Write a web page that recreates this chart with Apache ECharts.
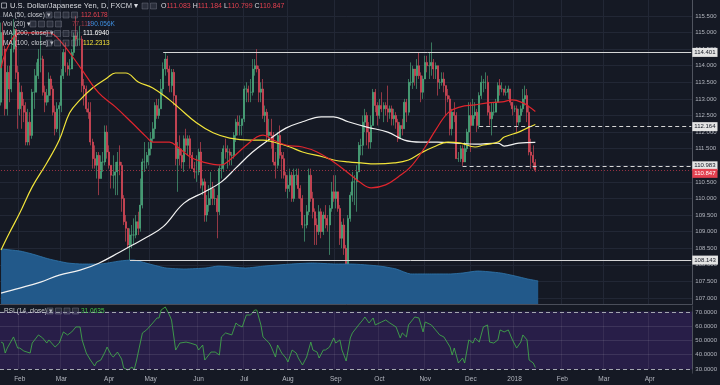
<!DOCTYPE html>
<html><head><meta charset="utf-8">
<script src="https://cdn.jsdelivr.net/npm/echarts@6/dist/echarts.min.js"></script>
<style>html,body{margin:0;padding:0;background:#151924;}#c{width:720px;height:385px;}</style>
</head><body><div id="c"></div>
<script>
// ---------- DATA ----------
const startDate = [2017, 0, 19];
const dayCount = 333;
// daily candles [open, close, low, high], from 2017-01-19
const ohlc = [
[112.9,115.0,112.8,115.3],[115.0,114.6,114.3,115.3],[114.5,112.7,112.5,114.6],[112.7,113.8,112.5,114.0],[113.8,113.3,112.9,114.0],
[113.3,114.5,113.2,115.0],[114.5,115.1,114.4,115.4],[115.1,113.8,113.6,115.1],[113.8,112.7,112.1,114.0],
[112.7,113.2,112.5,113.5],[113.2,112.8,112.1,113.4],[112.8,112.6,112.3,113.0],[112.6,111.7,111.6,112.9],[111.7,112.3,111.6,112.7],
[112.3,111.9,111.6,112.6],[111.9,113.2,111.8,113.3],[113.2,113.2,112.7,113.9],[113.2,113.7,113.2,114.1],[113.7,114.2,113.6,114.5],
[114.2,114.2,113.8,114.9],[114.2,113.2,113.1,114.3],[113.2,112.9,112.6,113.4],[112.9,113.1,112.8,113.3],[113.1,113.6,112.9,113.8],
[113.6,113.3,113.1,113.7],[113.3,112.6,112.5,113.4],[112.6,112.1,111.9,112.8],[112.1,112.7,112.0,112.9],[112.7,112.8,111.8,112.9],
[112.8,113.7,112.6,113.9],[113.7,114.4,113.6,114.5],[114.4,114.0,113.8,114.7],[114.0,113.9,113.7,114.1],[113.9,113.9,113.7,114.2],
[113.9,114.4,113.9,114.5],[114.4,114.9,114.3,115.0],[114.9,114.8,114.6,115.5],[114.8,114.8,114.6,115.0],[114.8,114.8,114.6,115.2],
[114.8,113.4,113.2,114.9],[113.4,113.3,112.8,113.6],[113.3,112.7,112.6,113.4],[112.7,112.6,112.4,112.9],[112.6,111.7,111.6,112.9],
[111.7,111.2,110.9,111.8],[111.2,111.0,110.9,111.6],[111.0,111.3,110.6,111.4],[111.3,110.6,110.1,111.4],[110.6,111.1,110.6,111.3],
[111.1,111.1,110.8,111.4],[111.1,112.0,111.0,112.2],[112.0,111.4,111.2,112.2],
[111.4,111.0,110.9,111.6],[111.0,110.7,110.3,111.0],[110.7,110.7,110.3,111.3],[110.7,110.8,110.1,111.1],[110.8,111.1,110.1,111.4],
[111.1,111.0,110.7,111.6],[111.0,110.0,109.6,111.1],[110.0,109.3,109.2,110.1],[109.3,109.1,108.7,109.5],[109.1,108.6,108.5,109.1],
[108.6,108.9,108.14,109.1],[108.9,108.9,108.5,109.2],[108.9,108.9,108.6,109.4],[108.9,109.3,108.8,109.5],[109.3,109.1,108.9,109.6],
[109.1,109.8,109.0,110.6],[109.8,111.1,109.7,111.2],[111.1,111.1,110.8,111.7],[111.1,111.3,110.9,111.4],[111.3,111.5,111.0,111.7],
[111.5,111.8,111.3,112.0],[111.8,112.1,111.7,112.3],[112.1,112.8,111.8,112.9],[112.8,112.5,112.4,113.0],[112.5,112.7,112.4,113.0],
[112.7,113.3,112.7,113.6],[113.3,113.9,113.1,114.1],[113.9,114.2,113.7,114.4],[114.2,113.9,113.8,114.3],[113.9,113.4,113.2,114.0],
[113.4,113.8,113.2,113.9],[113.8,113.1,112.8,113.9],[113.1,111.2,111.0,113.1],[111.2,111.5,110.2,111.7],[111.5,111.3,111.0,111.9],
[111.3,111.1,110.9,111.5],[111.1,111.8,110.8,111.9],[111.8,111.6,111.4,112.1],[111.6,111.8,111.3,111.9],[111.8,111.3,110.9,111.9],
[111.3,110.9,110.9,111.4],[110.9,110.8,110.6,111.1],[110.8,110.8,110.5,111.3],
[110.8,111.4,110.7,111.5],[111.4,110.4,110.3,111.7],[110.4,110.5,110.1,110.6],[110.5,109.5,109.3,110.6],[109.5,109.8,109.3,110.1],
[109.8,110.0,109.6,110.4],[110.0,110.3,109.8,110.8],[110.3,110.0,109.8,110.5],[110.0,110.0,109.8,110.3],[110.0,109.6,108.8,110.1],
[109.6,110.9,109.5,111.0],[110.9,110.9,110.6,111.4],[110.9,111.5,110.8,111.6],[111.5,111.4,111.2,111.8],[111.4,111.4,110.9,111.6],
[111.4,111.3,111.0,111.5],[111.3,111.3,111.0,111.4],[111.3,111.9,111.2,112.0],[111.9,112.3,111.7,112.4],[112.3,112.2,111.9,112.5],
[112.2,112.2,111.9,112.5],[112.2,112.4,111.9,112.4],
[112.4,113.3,112.3,113.4],[113.3,113.3,112.9,113.5],[113.3,113.2,112.9,113.4],[113.2,113.2,112.9,113.6],[113.2,113.9,113.1,114.2],
[113.9,114.0,113.7,114.2],[114.0,113.9,113.8,114.5],[113.9,113.2,112.9,114.0],[113.2,113.3,112.9,113.5],[113.3,112.5,112.4,113.6],
[112.5,112.6,112.3,112.8],[112.6,111.9,111.7,112.7],[111.9,112.0,111.7,112.4],[112.0,111.9,111.5,112.4],[111.9,111.1,111.0,112.0],
[111.1,111.0,110.6,111.4],[111.0,111.9,110.9,112.0],[111.9,111.3,111.2,112.2],[111.3,111.2,110.6,111.4],[111.2,110.7,110.6,111.4],
[110.7,110.3,110.2,110.8],
[110.3,110.4,110.0,110.7],[110.4,110.7,110.2,110.9],[110.7,110.0,109.9,110.8],[110.0,110.7,109.9,110.9],[110.7,110.7,110.4,110.9],
[110.7,110.3,110.0,110.9],[110.3,110.0,109.6,110.4],[110.0,109.2,109.1,110.1],[109.2,109.2,108.7,109.5],[109.2,109.6,109.1,109.8],
[109.6,110.7,109.5,110.9],[110.7,110.0,109.9,110.9],[110.0,109.6,109.4,110.2],[109.6,109.2,108.6,109.7],[109.2,109.0,108.6,109.4],
[109.0,109.6,108.9,109.8],[109.6,109.0,108.8,109.7],[109.0,109.5,108.9,109.6],[109.5,109.4,109.1,109.8],[109.4,109.2,109.0,109.5],
[109.2,109.7,108.3,109.8],[109.7,110.2,109.6,110.5],[110.2,110.0,109.9,110.7],
[110.0,110.2,109.7,110.7],[110.2,109.7,109.6,109.9],[109.7,108.8,108.6,109.8],[108.8,109.2,108.5,109.3],[109.2,108.5,108.3,109.4],
[108.5,107.9,107.85,108.6],[107.9,109.4,107.9,109.5],[109.4,110.1,109.3,110.2],[110.1,110.5,109.9,110.8],[110.5,110.5,109.8,110.7],
[110.5,110.8,109.6,111.0],[110.8,111.6,110.8,111.7],[111.6,111.6,111.3,111.8],[111.6,112.3,111.3,112.5],[112.3,112.5,112.0,112.7],
[112.5,112.0,111.6,112.6],[112.0,111.7,111.5,112.3],[111.7,112.2,111.5,112.5],[112.2,113.2,112.2,113.3],[113.2,112.8,112.6,113.3],
[112.8,112.5,112.2,112.9],
[112.5,112.8,112.4,113.0],[112.8,112.7,112.6,113.2],[112.7,112.8,112.3,112.9],[112.8,112.7,112.5,112.9],[112.7,112.6,112.3,113.4],
[112.6,112.7,112.4,112.8],[112.7,112.4,112.2,112.8],[112.4,112.5,112.2,112.7],[112.5,112.3,112.1,112.6],[112.3,111.8,111.7,112.4],
[111.8,112.2,111.8,112.3],[112.2,112.1,111.9,112.4],[112.1,112.9,112.1,113.0],[112.9,112.6,112.3,113.0],[112.6,113.5,112.5,113.6],
[113.5,113.5,113.4,114.1],[113.5,113.9,113.3,114.0],[113.9,113.7,113.4,113.9],[113.7,114.0,113.3,114.2],[114.0,113.7,113.6,114.4],
[113.7,113.2,112.9,113.8],[113.2,113.6,113.0,113.7],
[113.6,114.1,113.6,114.3],[114.1,114.0,113.8,114.3],[114.0,114.0,113.6,114.4],[114.0,114.1,113.7,114.7],[114.1,113.9,113.6,114.2],
[113.9,114.0,113.6,114.1],[114.0,113.5,113.1,114.0],[113.5,113.5,113.3,113.6],[113.5,113.6,113.4,113.8],[113.6,113.4,113.2,113.8],
[113.4,113.1,112.5,113.4],[113.1,113.0,112.9,113.3],[113.0,112.1,111.9,113.1],[112.1,112.6,111.9,112.7],[112.6,112.5,112.3,112.9],
[112.5,111.2,111.2,112.6],[111.2,111.2,111.1,111.4],[111.2,111.5,111.1,111.6],[111.5,111.1,110.98,111.6],[111.1,111.5,111.1,111.7],
[111.5,112.0,111.4,112.1],[112.0,112.5,111.6,112.9],
[112.5,112.2,111.4,112.9],[112.2,112.5,112.2,113.0],[112.5,112.6,112.4,112.9],[112.6,112.2,112.0,112.7],[112.2,113.1,112.1,113.2],
[113.1,113.5,113.0,113.7],[113.5,113.5,113.2,113.6],[113.5,113.5,113.3,113.8],[113.5,112.6,112.5,113.7],[112.6,112.4,112.2,112.8],
[112.4,112.6,111.9,112.9],[112.6,112.6,112.5,112.9],[112.6,112.9,112.6,113.0],[112.9,113.4,112.9,113.5],[113.4,113.3,113.1,113.6],
[113.3,113.3,113.2,113.5],[113.3,113.2,113.1,113.3],[113.2,113.2,113.1,113.4],[113.2,113.3,113.0,113.4],[113.3,112.9,112.8,113.3],
[112.9,112.7,112.5,112.9],
[112.7,112.7,112.6,112.8],[112.7,112.3,112.0,112.8],[112.3,112.5,112.2,112.7],[112.5,112.7,112.3,112.8],[112.7,113.0,112.6,113.3],
[113.0,113.1,112.8,113.4],[113.1,112.6,112.3,113.3],[112.6,111.4,111.3,112.8],[111.4,111.3,110.9,111.8],[111.3,111.08,110.9,111.6],
[111.083,110.847,110.799,111.184]
];
// moving averages: [dayIndex, value]
const ma50 = [[0,113.93],[2,114.38],[6,114.87],[9,114.99],[23,114.99],[28,114.78],[38,113.96],[47,113.18],[55,112.76],[63,112.28],[70,111.85],[73,111.70],[81,111.70],[85,111.55],[91,111.25],[97,111.10],[106,111.01],[110,111.16],[117,111.55],[123,111.85],[126,111.91],[131,111.76],[137,111.61],[145,111.55],[152,111.40],[160,111.10],[167,110.77],[173,110.47],[178,110.32],[185,110.41],[191,110.65],[197,110.95],[204,111.55],[209,112.06],[215,112.58],[221,112.76],[228,112.82],[234,112.88],[241,112.91],[246,112.97],[251,112.88],[254,112.76],[257,112.62]];
const ma100 = [[0,108.45],[4,108.96],[9,109.56],[15,110.35],[22,111.07],[28,111.76],[33,112.58],[38,112.97],[44,113.33],[51,113.63],[55,113.78],[60,113.78],[66,113.51],[73,113.33],[81,112.97],[85,112.76],[94,112.28],[102,111.98],[110,111.82],[120,111.76],[126,111.76],[131,111.70],[139,111.55],[145,111.40],[155,111.25],[160,111.16],[167,111.10],[173,111.07],[180,111.04],[189,111.07],[196,111.16],[202,111.37],[208,111.55],[215,111.70],[221,111.67],[228,111.55],[232,111.61],[239,111.70],[242,111.85],[249,112.00],[254,112.15],[257,112.23]];
const ma200 = [[0,107.15],[9,107.30],[19,107.48],[28,107.69],[38,107.84],[47,108.05],[57,108.38],[63,108.59],[70,108.83],[78,109.15],[88,109.86],[98,110.20],[106,110.50],[113,110.92],[121,111.40],[130,111.82],[137,112.12],[145,112.31],[154,112.46],[160,112.46],[167,112.31],[176,112.15],[186,112.00],[194,111.76],[202,111.70],[210,111.70],[219,111.67],[228,111.64],[239,111.67],[242,111.58],[249,111.67],[257,111.69]];
// volume moving average (thousands)
const volMA = [[0,454],[9,437],[15,412],[23,371],[32,338],[39,330],[47,330],[57,355],[63,363],[71,330],[79,297],[88,289],[98,297],[104,313],[117,297],[126,313],[139,330],[149,338],[160,330],[167,330],[181,313],[189,289],[196,248],[205,248],[215,248],[221,256],[228,272],[239,256],[246,231],[252,206],[257,190]];
// RSI(14)
const rsi = [[0,48.9],[1,48.2],[2,41.2],[3,44.7],[6,52.5],[8,44.7],[9,44.7],[11,42.6],[14,41.2],[15,48.2],[18,53.9],[20,51.8],[22,48.2],[23,50.4],[26,45.4],[28,48.2],[30,56.0],[32,53.9],[34,56.0],[36,59.5],[38,59.5],[39,50.4],[41,41.2],[43,36.3],[45,32.1],[46,34.9],[48,36.3],[50,41.9],[51,45.4],[53,39.8],[54,38.4],[56,41.9],[58,37.0],[59,30.7],[61,29.3],[63,31.4],[64,29.3],[65,34.9],[68,55.3],[70,57.4],[73,62.3],[75,65.8],[76,65.8],[77,71.4],[79,73.5],[81,67.9],[82,64.4],[84,43.3],[86,48.2],[89,48.9],[91,48.2],[94,46.8],[95,43.3],[97,46.8],[98,36.3],[101,41.9],[103,41.9],[105,39.8],[106,52.5],[108,55.3],[111,53.9],[113,62.3],[114,60.9],[116,59.5],[118,67.9],[120,67.9],[122,71.4],[123,71.4],[125,60.9],[126,52.5],[129,48.2],[130,45.4],[132,38.4],[133,46.8],[135,41.2],[137,37.7],[138,34.9],[140,43.3],[142,41.2],[143,37.7],[145,32.8],[147,38.4],[149,48.9],[150,43.3],[152,41.9],[153,37.7],[155,43.3],[156,43.3],[158,45.4],[160,51.8],[161,48.2],[163,50.4],[164,43.3],[166,35.6],[168,51.8],[169,55.3],[172,60.9],[174,64.4],[175,66.5],[177,62.3],[179,65.8],[180,60.9],[183,63.0],[185,64.4],[187,62.3],[190,59.5],[192,51.8],[193,55.3],[195,52.5],[196,60.9],[199,66.5],[201,65.8],[203,56.0],[204,63.0],[207,60.9],[209,57.4],[211,53.9],[213,52.5],[216,45.4],[217,39.8],[218,44.7],[220,34.2],[222,37.7],[223,34.2],[225,50.4],[227,48.2],[228,51.8],[230,48.9],[232,59.5],[234,60.9],[235,48.9],[237,48.2],[239,50.4],[240,57.4],[242,56.0],[244,57.4],[246,50.4],[248,44.7],[250,48.9],[251,53.9],[253,50.4],[254,36.3],[256,34.2],[257,31.06]];
const priceTicks = [107,107.5,108,108.5,109,109.5,110,110.5,111,111.5,112,112.5,113,113.5,114,114.5,115,115.5];
const rsiLabelTicks = [30,40,50,60,70];
const rsiGridTicks = [40,50,60];
const rsiBands = [70,30];
const levelPrices = [114.401,112.164,110.983,108.143];
const levelFrom = ['2017-05-09','2017-12-07','2017-11-27','2017-04-17'];
const levelDashed = [false,true,true,false];
const lastPrice = 110.847;
const headerOHLC = ['111.083','111.184','110.799','110.847'];
const legendVals = {ma50:'112.6178', vol:'77.11K', volMA:'190.056K', ma200:'111.6940', ma100:'112.2313', rsi:'31.0635'};
const monthNames = ['Jan','Feb','Mar','Apr','May','Jun','Jul','Aug','Sep','Oct','Nov','Dec'];

// ---------- BUILD ----------
const dates = [];
{ const d = new Date(Date.UTC(startDate[0], startDate[1], startDate[2]));
  while (dates.length < dayCount) { const w = d.getUTCDay(); if (w !== 0 && w !== 6) dates.push(d.toISOString().slice(0,10)); d.setUTCDate(d.getUTCDate()+1); } }
const isMonthStart = (i) => i > 0 && dates[i].slice(5,7) !== dates[i-1].slice(5,7);
const monthLabel = (v) => { const m = +v.slice(5,7); return m === 1 ? v.slice(0,4) : monthNames[m-1]; };
const lastDate = dates[dates.length-1];

const FONT = '"Liberation Sans", Arial, sans-serif';
const gridColor = '#222735';
const axisText = '#b2b5be';

const levelLines = levelPrices.map((p,i) => [
  { coord:[levelFrom[i], p], lineStyle:{ color:'#d6d6d6', width:1, type: levelDashed[i] ? [4,3] : 'solid' },
    label:{ show:true, position:'end', distance:1, formatter: p.toFixed(3), backgroundColor:'#e4e4e4', color:'#131722',
            fontSize:6, fontFamily:FONT, padding:[2,2,1,2] } },
  { coord:[lastDate, p] }
]);
levelLines.push([
  { coord:[dates[0], lastPrice], lineStyle:{ color:'#9c3444', width:1, type:[1,2] },
    label:{ show:true, position:'end', distance:1, formatter: lastPrice.toFixed(3), backgroundColor:'#e2404f', color:'#ffffff',
            fontSize:6, fontFamily:FONT, padding:[2,2,1,2], offset:[0,3] } },
  { coord:[lastDate, lastPrice] }
]);

const graphics = [];
function txt(x, y, text, fill, size, extra) {
  graphics.push(Object.assign({ type:'text', x, y, silent:true, z:100,
    style:{ text, fill, font: (size||6.5)+'px '+FONT, verticalAlign:'middle' } }, extra||{}));
}
function icons(x, y, n) {
  for (let k=0;k<n;k++) graphics.push({ type:'rect', silent:true, z:100, shape:{x:x+k*8.5, y:y-3, width:6, height:6},
    style:{ fill:'rgba(110,115,130,0.25)', stroke:'rgba(150,155,170,0.55)', lineWidth:0.6 } });
}
graphics.push({ type:'rect', silent:true, z:100, shape:{x:1.5,y:3,width:5,height:5}, style:{fill:'none', stroke:'#c9ccd4', lineWidth:0.7} });
txt(10, 6, 'U.S. Dollar/Japanese Yen, D, FXCM ▾', '#d9dbe0', 7.6);
icons(142, 6, 2);
graphics.push({ type:'text', x:161, y:6, silent:true, z:100, style:{
  text:'O{r|'+headerOHLC[0]+'} H{r|'+headerOHLC[1]+'} L{r|'+headerOHLC[2]+'} C{r|'+headerOHLC[3]+'}',
  fill:'#d9dbe0', font:'7px '+FONT, verticalAlign:'middle', rich:{ r:{ fill:'#e2404f', font:'7px '+FONT } } } });
txt(3, 15, 'MA (50, close) ▾', '#c8cad0'); icons(46, 15, 4); txt(81, 15, legendVals.ma50, '#e2404f');
txt(3, 24, 'Vol (20) ▾', '#c8cad0'); icons(30, 24, 4); txt(72, 24, legendVals.vol, '#9a3a48'); txt(87, 24, legendVals.volMA, '#3f8fe0');
txt(3, 33.5, 'MA (200, close) ▾', '#c8cad0'); icons(46, 33.5, 4); txt(83, 33.5, legendVals.ma200, '#ffffff');
txt(3, 43, 'MA (100, close) ▾', '#c8cad0'); icons(46, 43, 4); txt(83, 43, legendVals.ma100, '#f5e23a');
txt(4, 311, 'RSI (14, close) ▾', '#c8cad0'); icons(47, 311, 4); txt(81, 311, legendVals.rsi, '#43c24a');

const chart = echarts.init(document.getElementById('c'), null, { renderer:'canvas' });
chart.setOption({
  backgroundColor:'#151924',
  animation:false,
  textStyle:{ fontFamily:FONT },
  grid:[
    { left:0, right:24, top:0, height:304 },
    { left:0, right:24, top:0, height:304 },
    { left:0, right:24, top:306, height:67, show:true, backgroundColor:'#281e48', borderWidth:0 }
  ],
  xAxis:[
    { type:'category', gridIndex:0, data:dates, boundaryGap:true,
      axisLabel:{show:false}, axisTick:{show:false},
      axisLine:{ show:true, lineStyle:{ color:'#4a4e5a' } },
      splitLine:{ show:true, interval:(i)=>isMonthStart(i), lineStyle:{ color:gridColor } } },
    { type:'category', gridIndex:1, data:dates, boundaryGap:true, show:false },
    { type:'category', gridIndex:2, data:dates, boundaryGap:true,
      axisLine:{ show:false }, axisTick:{ show:false },
      axisLabel:{ interval:(i)=>isMonthStart(i), formatter:monthLabel, color:axisText, fontSize:6.5, margin:3 },
      splitLine:{ show:true, interval:(i)=>isMonthStart(i), lineStyle:{ color:'rgba(255,255,255,0.07)' } } }
  ],
  yAxis:[
    { type:'value', gridIndex:0, position:'right', min:106.82, max:115.98,
      axisLine:{ show:true, lineStyle:{ color:'#50545f' } },
      axisTick:{ show:false, customValues:priceTicks },
      axisLabel:{ customValues:priceTicks, formatter:(v)=>v.toFixed(3), color:axisText, fontSize:6, margin:3 },
      splitLine:{ show:true, lineStyle:{ color:gridColor } } },
    { type:'value', gridIndex:1, min:0, max:2508, show:false, splitLine:{show:false} },
    { type:'value', gridIndex:2, position:'right', min:27.19, max:74.21,
      axisLine:{ show:true, lineStyle:{ color:'#50545f' } },
      axisTick:{ show:false, customValues:rsiGridTicks },
      axisLabel:{ customValues:rsiLabelTicks, formatter:(v)=>v.toFixed(4), color:axisText, fontSize:6, margin:3 },
      splitLine:{ show:true, lineStyle:{ color:'rgba(255,255,255,0.10)' } } }
  ],
  series:[
    { type:'line', xAxisIndex:1, yAxisIndex:1, data:volMA, symbol:'none', smooth:0.2,
      lineStyle:{ color:'#3079b0', width:0.8 }, areaStyle:{ color:'#22598a', opacity:1 } },
    { type:'candlestick', xAxisIndex:0, yAxisIndex:0, data:ohlc, barWidth:1.5, clip:false,
      itemStyle:{ color:'#53b987', color0:'#eb4d5c', borderColor:'#53b987', borderColor0:'#eb4d5c', borderWidth:0.6 },
      markLine:{ silent:true, symbol:['none','none'], animation:false, data:levelLines } },
    { type:'line', xAxisIndex:0, yAxisIndex:0, data:ma200, symbol:'none', smooth:0.4, lineStyle:{ color:'#f2f2f2', width:1.2 } },
    { type:'line', xAxisIndex:0, yAxisIndex:0, data:ma100, symbol:'none', smooth:0.4, lineStyle:{ color:'#f2e43a', width:1.2 } },
    { type:'line', xAxisIndex:0, yAxisIndex:0, data:ma50, symbol:'none', smooth:0.4, lineStyle:{ color:'#e0252d', width:1.2 } },
    { type:'line', xAxisIndex:2, yAxisIndex:2, data:rsi, symbol:'none', lineStyle:{ color:'#43b54a', width:0.8 },
      markArea:{ silent:true, itemStyle:{ color:'#151924' }, data:[ [{yAxis:rsiBands[0]+0.3},{yAxis:100}], [{yAxis:0},{yAxis:rsiBands[1]-0.3}] ] },
      markLine:{ silent:true, symbol:['none','none'], label:{show:false},
        lineStyle:{ color:'#a3a6b0', width:1, type:[4,3] }, data:rsiBands.map(v=>({yAxis:v})) } }
  ],
  graphic: graphics
});
</script>
</body></html>
